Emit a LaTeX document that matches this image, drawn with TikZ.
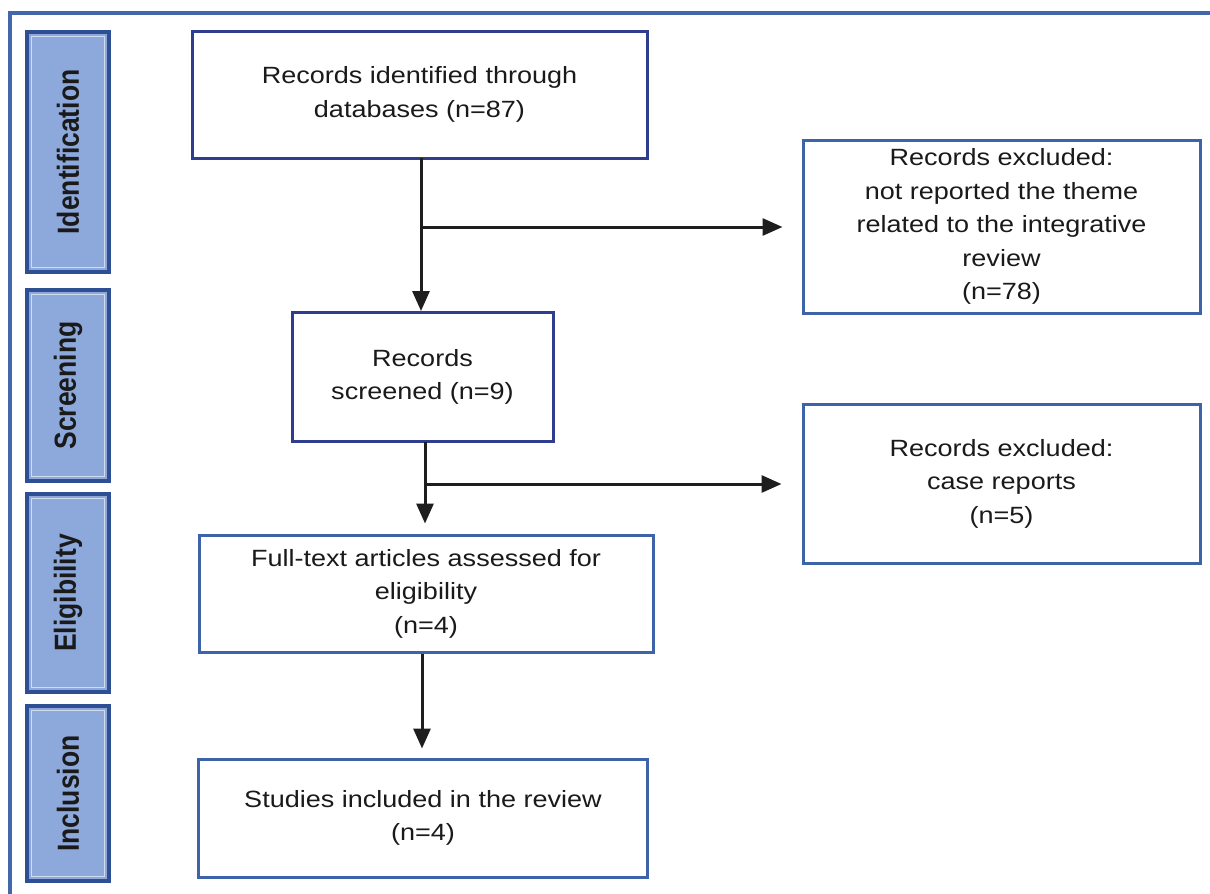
\documentclass[tikz,border=0pt]{standalone}
\usepackage{fontspec}
\setmainfont{Liberation Sans}[FakeStretch=1.15]
\newfontfamily\sidefont{Liberation Sans}
\usetikzlibrary{arrows.meta,positioning,calc}
\definecolor{framec}{HTML}{4466AA}
\definecolor{navyb}{HTML}{2E3D8E}
\definecolor{steelb}{HTML}{3D63A8}
\definecolor{sidefill}{HTML}{8DA8DB}
\definecolor{sideedge}{HTML}{2F4F94}
\definecolor{txt}{HTML}{1A1A1A}
\definecolor{arr}{HTML}{1E1E1E}
\tikzset{
  mainbox/.style={draw=#1, line width=3pt, fill=white, text=txt, align=center,
    inner sep=0pt, font=\fontsize{23.5}{33.5}\selectfont},
  sidebox/.style={draw=sideedge, line width=3.2pt, fill=sidefill, inner sep=0pt},
  sideinner/.style={draw=white, line width=1pt, opacity=0.6},
  sidelabel/.style={rotate=90, text=txt, font=\sidefont\bfseries\fontsize{26.5}{30}\selectfont},
  flow/.style={draw=arr, line width=3pt, -{Triangle[length=20pt,width=17pt]}},
  plainline/.style={draw=arr, line width=3pt},
}
\begin{document}
\begin{tikzpicture}[x=1pt,y=-1pt]
\useasboundingbox (0,0) rectangle (1210,894);
\fill[white] (0,0) rectangle (1210,894);
% outer frame
\draw[framec, line width=3.2pt] (10,900) -- (10,13) -- (1215,13);
% side boxes
\foreach \nm/\ya/\yb/\lab in {sid/32/272/Identification, ssc/290/481/Screening, sel/494/692/Eligibility, sin/706/881/Inclusion}{
  \path[sidebox] (27,\ya) rectangle (109,\yb);
  \draw[sideinner] (31.5,\ya+4.5) rectangle (104.5,\yb-4.5);
  \node[sidelabel] (\nm) at (68,{(\ya+\yb)/2}) {\scalebox{1}[1.15]{\lab}};
}
% main boxes
\node[mainbox=navyb, minimum width=455pt, minimum height=127pt] (b1) at (419.5,94.5)
  {Records identified through\\databases (n=87)};
\node[mainbox=steelb, minimum width=397pt, minimum height=173pt] (e1) at (1001.5,226.5)
  {Records excluded:\\not reported the theme\\related to the integrative\\review\\(n=78)};
\node[mainbox=navyb, minimum width=261pt, minimum height=129pt] (b2) at (422.5,377)
  {Records\\screened (n=9)};
\node[mainbox=steelb, minimum width=397pt, minimum height=159pt] (e2) at (1001.5,483.5)
  {Records excluded:\\case reports\\(n=5)};
\node[mainbox=steelb, minimum width=454pt, minimum height=117pt] (b3) at (426,593.5)
  {Full-text articles assessed for\\eligibility\\(n=4)};
\node[mainbox=steelb, minimum width=449pt, minimum height=118pt] (b4) at (423,818)
  {Studies included in the review\\(n=4)};
% connectors
\coordinate (j1) at (421,227);
\coordinate (j2) at (425,484);
\draw[plainline] (421,158) -- (j1);
\draw[flow] (j1) -- (b2.north -| j1);
\draw[flow, shorten >=19pt] (j1) -- (e1.west |- j1);
\draw[plainline] (425,441.5) -- (j2);
\draw[flow, shorten >=10pt] (j2) -- (b3.north -| j2);
\draw[flow, shorten >=20pt] (j2) -- (e2.west |- j2);
\draw[flow, shorten >=9pt] (b3.south -| 422,0) -- (b4.north -| 422,0);
\end{tikzpicture}
\end{document}
